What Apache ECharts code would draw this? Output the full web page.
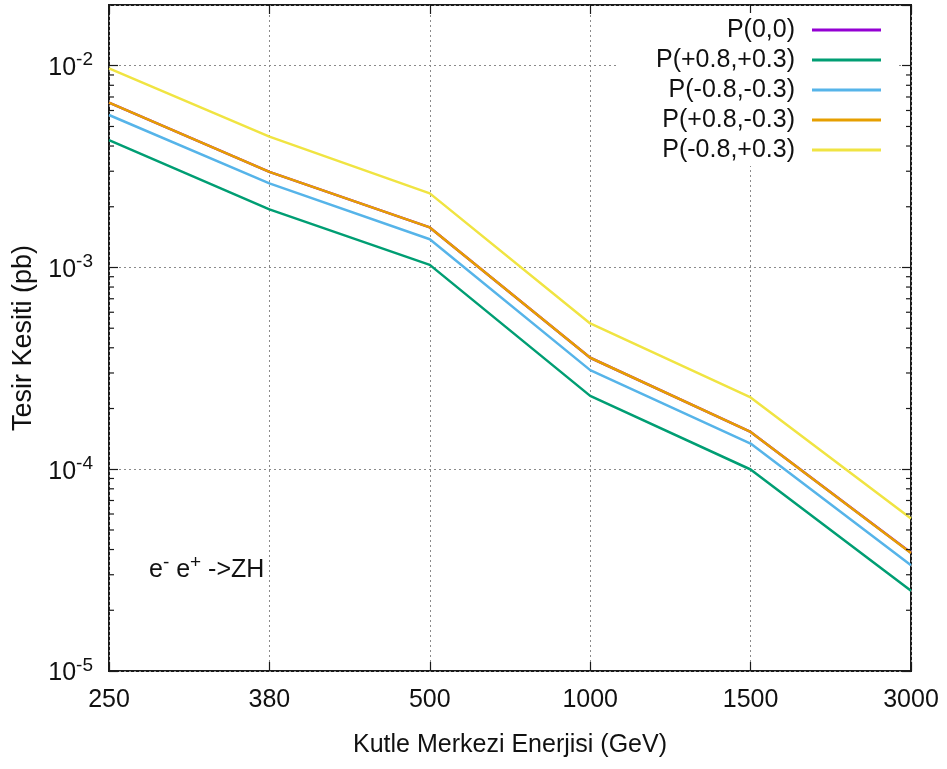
<!DOCTYPE html>
<html>
<head>
<meta charset="utf-8">
<script src="https://cdn.jsdelivr.net/npm/echarts@6/dist/echarts.min.js"></script>
<style>html,body{margin:0;padding:0;background:#fff}#c{width:947px;height:769px}</style>
</head>
<body>
<div id="c"></div>
<script>
const categories = ['250', '380', '500', '1000', '1500', '3000'];
const seriesNames = ['P(0,0)', 'P(+0.8,+0.3)', 'P(-0.8,-0.3)', 'P(+0.8,-0.3)', 'P(-0.8,+0.3)'];
const p00   = [0.00657, 0.00298, 0.00158, 0.000357, 0.000153, 0.0000386];
const pPP   = [0.00428, 0.00194, 0.00103, 0.000231, 0.0000997, 0.0000250];
const pMM   = [0.00570, 0.00261, 0.00138, 0.000310, 0.000134, 0.0000334];
const pPM   = [0.00656, 0.00298, 0.00158, 0.000357, 0.000153, 0.0000385];
const pMP   = [0.00970, 0.00445, 0.00233, 0.000528, 0.000227, 0.0000570];
const colors = ['#9400d3', '#009e73', '#56b4e9', '#e69f00', '#f0e442'];
const yMinorTicks = [2e-5,3e-5,4e-5,5e-5,6e-5,7e-5,8e-5,9e-5,
                     2e-4,3e-4,4e-4,5e-4,6e-4,7e-4,8e-4,9e-4,
                     2e-3,3e-3,4e-3,5e-3,6e-3,7e-3,8e-3,9e-3,2e-2];
const FONT = "'Liberation Sans', Arial, sans-serif";

const chart = echarts.init(document.getElementById('c'), null, {renderer: 'canvas'});
const values = [p00, pPP, pMM, pPM, pMP];

function supLabel(v) {
  const e = Math.log10(v);
  if (Math.abs(e - Math.round(e)) > 1e-6) return '';
  return '{b|10}{s|' + Math.round(e) + '}';
}

const gridLine = {show: true, lineStyle: {color: '#8a8a8a', type: [2, 3], width: 1}};

const option = {
  animation: false,
  backgroundColor: '#fff',
  textStyle: {fontFamily: FONT},
  grid: {left: 109, right: 36, top: 5, bottom: 98, show: true, borderColor: '#1a1a1a', borderWidth: 2, backgroundColor: 'transparent'},
  legend: {
    data: seriesNames,
    orient: 'vertical',
    right: 50, top: 13,
    align: 'right',
    padding: [4, 16, 3, 40],
    backgroundColor: '#fff',
    itemGap: 4,
    itemWidth: 69, itemHeight: 3,
    icon: 'rect',
    textStyle: {fontFamily: FONT, fontSize: 25, color: '#111', lineHeight: 26, padding: [0, 12, 0, 0]}
  },
  xAxis: [{
    type: 'category', data: categories, boundaryGap: false, position: 'bottom',
    axisLine: {show: false},
    axisTick: {show: true, inside: true, length: 9, lineStyle: {color: '#1a1a1a', width: 1.2}},
    axisLabel: {fontFamily: FONT, fontSize: 25, color: '#111', margin: 17},
    splitLine: gridLine,
    name: 'Kutle Merkezi Enerjisi (GeV)', nameLocation: 'middle', nameGap: 62,
    nameTextStyle: {fontFamily: FONT, fontSize: 25, color: '#111'}
  }, {
    type: 'category', data: categories, boundaryGap: false, position: 'top',
    axisLine: {show: false},
    axisTick: {show: true, inside: true, length: 9, lineStyle: {color: '#1a1a1a', width: 1.2}},
    axisLabel: {show: false}, splitLine: {show: false}
  }],
  yAxis: [{
    type: 'log', logBase: 10, min: 1e-5, max: 0.02, position: 'left',
    axisLine: {show: false},
    axisTick: {show: true, inside: true, length: 9, lineStyle: {color: '#1a1a1a', width: 1.2}},
    axisLabel: {
      margin: 16, formatter: supLabel, showMaxLabel: false,
      rich: {
        b: {fontFamily: FONT, fontSize: 25, color: '#111', lineHeight: 30, verticalAlign: 'bottom'},
        s: {fontFamily: FONT, fontSize: 19, color: '#111', lineHeight: 30, verticalAlign: 'top'}
      }
    },
    splitLine: gridLine,
    name: 'Tesir Kesiti (pb)', nameLocation: 'middle', nameGap: 72,
    nameTextStyle: {fontFamily: FONT, fontSize: 27, color: '#111'}
  }, {
    type: 'log', logBase: 10, min: 1e-5, max: 0.02, position: 'right',
    axisLine: {show: false},
    axisTick: {show: true, inside: true, length: 9, lineStyle: {color: '#1a1a1a', width: 1.2}},
    axisLabel: {show: false}, splitLine: {show: false}
  }],
  graphic: [{
    type: 'text', left: 149, top: 553, z: 10,
    style: {
      text: '{m|e}{s|-}{m| e}{s|+}{m| ->ZH}',
      rich: {
        m: {fontFamily: FONT, fontSize: 25, fill: '#111', lineHeight: 30, verticalAlign: 'bottom'},
        s: {fontFamily: FONT, fontSize: 19, fill: '#111', lineHeight: 30, verticalAlign: 'top'}
      }
    }
  }],
  series: values.map((d, i) => ({
    name: seriesNames[i], type: 'line', data: d, symbol: 'none',
    xAxisIndex: 0, yAxisIndex: 0,
    lineStyle: {color: colors[i], width: 2.5}, itemStyle: {color: colors[i]}, z: 2 + i
  })).concat([{
    type: 'custom', xAxisIndex: 0, yAxisIndex: 0, silent: true, z: 20,
    data: yMinorTicks.map(v => [0, v]),
    renderItem: function (params, api) {
      const v = api.value(1);
      const pL = api.coord([0, v]);
      const pR = api.coord([categories.length - 1, v]);
      return {type: 'group', children: [
        {type: 'line', shape: {x1: pL[0], y1: pL[1], x2: pL[0] + 5, y2: pL[1]}, style: {stroke: '#1a1a1a', lineWidth: 1.2}},
        {type: 'line', shape: {x1: pR[0], y1: pR[1], x2: pR[0] - 5, y2: pR[1]}, style: {stroke: '#1a1a1a', lineWidth: 1.2}}
      ]};
    }
  }])
};
chart.setOption(option);
</script>
</body>
</html>
